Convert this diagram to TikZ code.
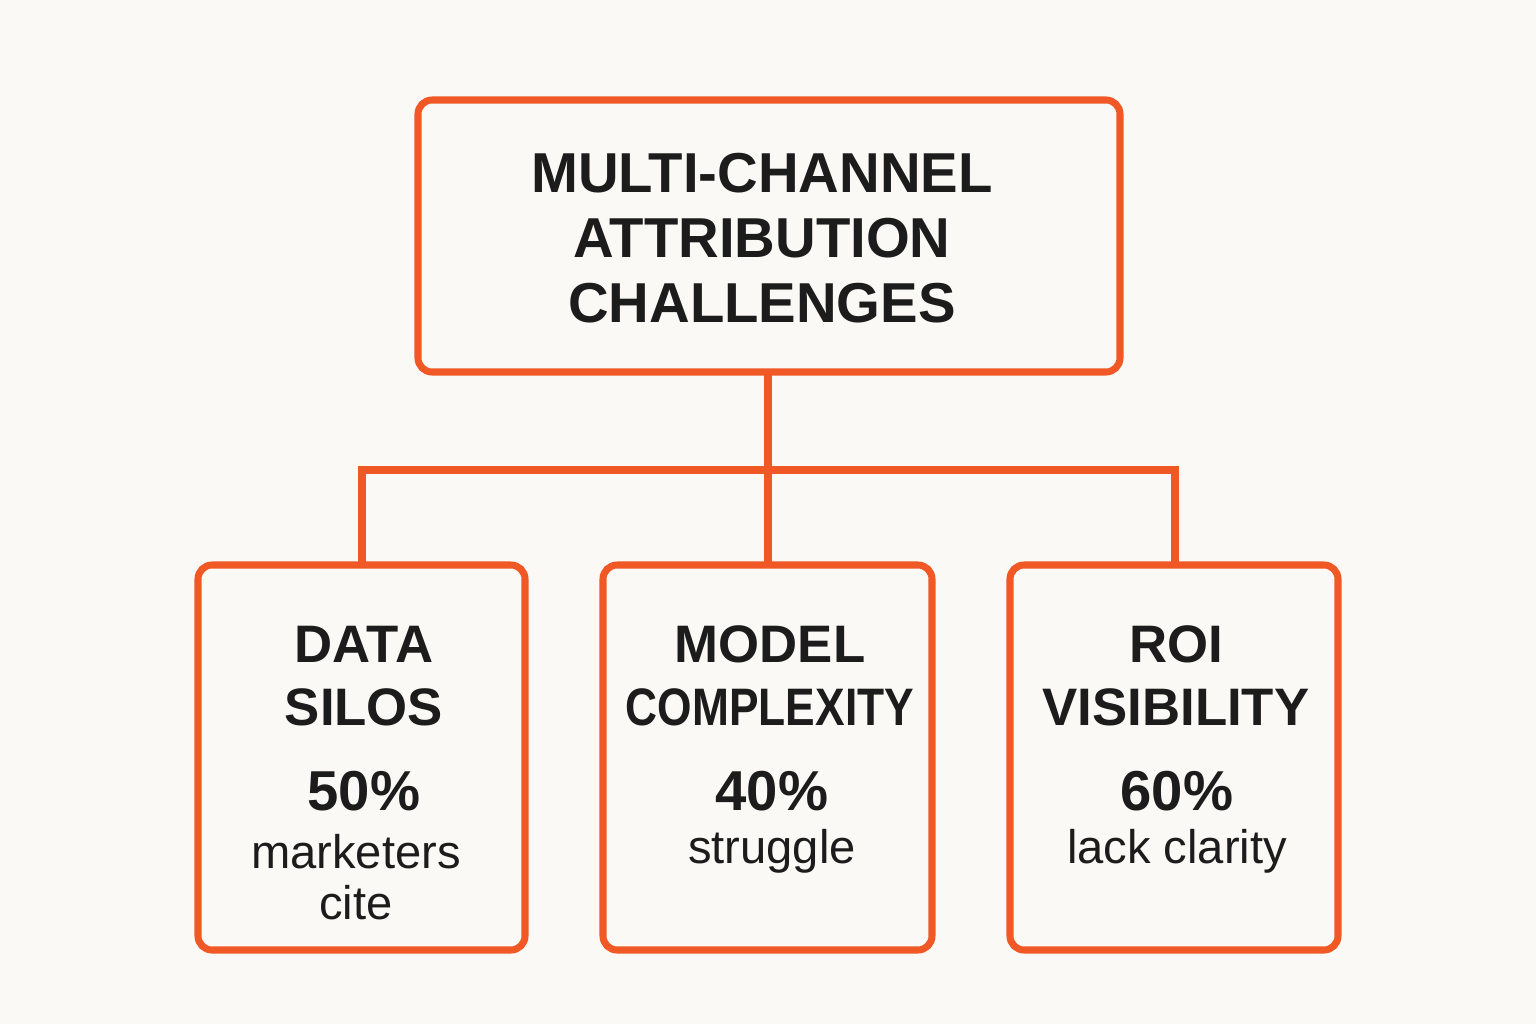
\documentclass[tikz,border=0pt]{standalone}
\usepackage{fontspec}
\setmainfont{Liberation Sans}
\definecolor{bg}{RGB}{250,249,245}
\definecolor{org}{RGB}{240,88,38}
\definecolor{ink}{RGB}{28,28,28}
\begin{document}
\begin{tikzpicture}[x=0.01cm,y=-0.01cm,
  box/.style={draw=org,line width=2pt,rounded corners=4pt},
  link/.style={draw=org,line width=2pt},
  head/.style={text=ink,font=\fontsize{16}{18.5}\selectfont\bfseries,align=center,inner sep=0pt},
  bhead/.style={text=ink,font=\fontsize{15}{18}\selectfont\bfseries,align=center,inner sep=0pt},
  pct/.style={text=ink,font=\fontsize{16}{20}\selectfont\bfseries,align=center,inner sep=0pt},
  sub/.style={text=ink,font=\fontsize{13.4}{14.5}\selectfont,align=center,inner sep=0pt}]
\fill[bg] (0,0) rectangle (1536,1024);
\useasboundingbox (0,0) rectangle (1536,1024);
% boxes
\draw[box] (418,100) rectangle (1120,372);
\coordinate (topc) at (768,372);
\draw[box] (198,565) rectangle (525,950);
\draw[box] (603,565) rectangle (932,950);
\draw[box] (1010,565) rectangle (1338,950);
\coordinate (lt) at (362,565);
\coordinate (mt) at (768,565);
\coordinate (rt) at (1175,565);
\coordinate (bus) at (768,470);
% connectors
\draw[link] (topc) -- (bus);
\draw[link] (lt) |- (bus) -| (rt);
\draw[link] (bus) -- (mt);
% title
\node[head] (title) at (762,238) {MULTI-CHANNEL\\ATTRIBUTION\\CHALLENGES};
% left
\node[bhead] (l1) at (364,676) {DATA\\SILOS};
\node[pct] (l2) at (364,791) {50\%};
\node[sub] (l3) at (356,877) {marketers\\cite};
% middle
\node[bhead] (m1) at (770,676) {MODEL\\\scalebox{0.84}[1]{COMPLEXITY}};
\node[pct] (m2) at (772,791) {40\%};
\node[sub] (m3) at (772,851) {struggle};
% right
\node[bhead] (r1) at (1176,676) {ROI\\VISIBILITY};
\node[pct] (r2) at (1177,791) {60\%};
\node[sub] (r3) at (1177,851) {lack clarity};
\end{tikzpicture}
\end{document}
